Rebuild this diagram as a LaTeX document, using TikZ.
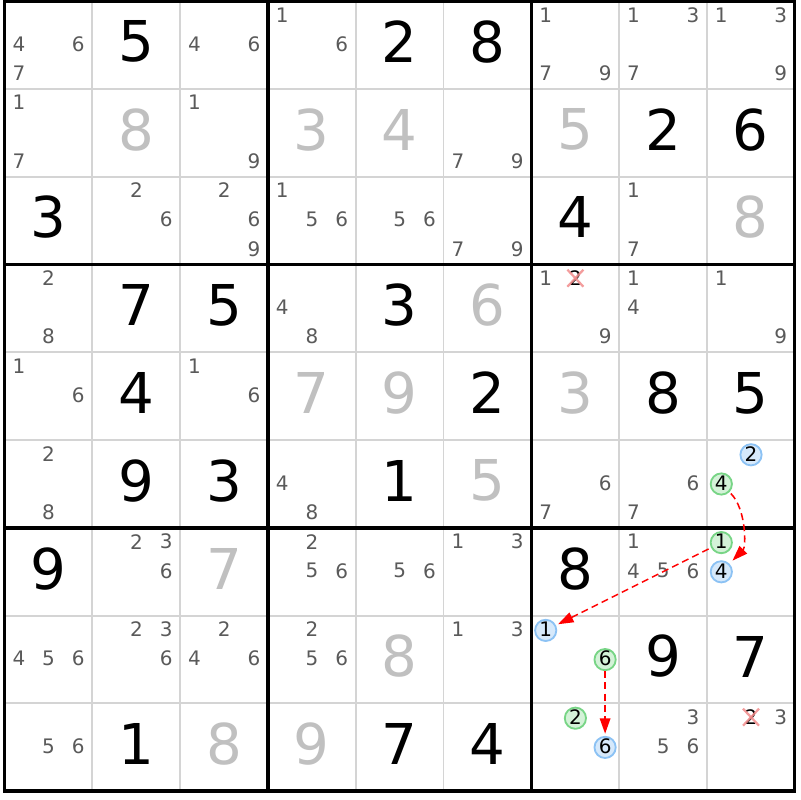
\documentclass[tikz,border=0pt]{standalone}
\usepackage{fontspec}
\setmainfont{DejaVu Sans}
\usetikzlibrary{arrows.meta}
\definecolor{candgray}{HTML}{5A5A5A}
\definecolor{solvedgray}{HTML}{C0C0C0}
\definecolor{gridlight}{HTML}{D4D4D4}
\definecolor{bluefill}{HTML}{D6E9FB}
\definecolor{bluedraw}{HTML}{8CC2F4}
\definecolor{greenfill}{HTML}{D4F2D8}
\definecolor{greendraw}{HTML}{78D586}
\definecolor{crossred}{HTML}{F28C8C}
\newcommand\markcand[5]{%
  \pgfmathsetmacro\cpx{4.5+87.8*(#4-1)+14.4+29.7*mod(#5-1,3)}%
  \pgfmathsetmacro\cpy{799-87.8*(#3-1)-13.8-29.2*floor((#5-1)/3)}%
  \node[#1] (#2) at (\cpx,{\cpy-1}) {};%
  \node[markdigit] (#2t) at (\cpx,\cpy) {#5};%
}
\newcommand\crosscand[4]{%
  \pgfmathsetmacro\cpx{4.5+87.8*(#3-1)+14.4+29.7*mod(#4-1,3)}%
  \pgfmathsetmacro\cpy{799-87.8*(#2-1)-13.8-29.2*floor((#4-1)/3)}%
  \node[markdigit] (#1) at (\cpx,\cpy) {#4};%
  \draw[crossx] ([shift={(-8,8.5)}]#1.center) -- ([shift={(8,-8.5)}]#1.center);%
  \draw[crossx] ([shift={(-8,-8.5)}]#1.center) -- ([shift={(8,8.5)}]#1.center);%
}
\begin{document}
\begin{tikzpicture}[x=0.025cm,y=0.025cm,
  bigdigit/.style={font=\fontsize{40}{40}\selectfont, inner sep=0pt},
  given/.style={bigdigit, text=black},
  solved/.style={bigdigit, text=solvedgray},
  cand/.style={font=\fontsize{14.2}{14.2}\selectfont, inner sep=0pt, text=candgray},
  markdigit/.style={cand, text=black},
  bluering/.style={circle, draw=bluedraw, fill=bluefill, line width=1.3pt, minimum size=15.1pt, inner sep=0pt},
  greenring/.style={bluering, draw=greendraw, fill=greenfill},
  crossx/.style={crossred, line width=1.6pt, opacity=0.85},
  link/.style={red, line width=1.1pt, dash pattern=on 5pt off 3pt, -{Triangle[length=11pt,width=7.5pt]}},
  gridthin/.style={gridlight, line width=1.3pt},
  gridthick/.style={black, line width=2.5pt, line cap=rect}]
\useasboundingbox (0,0) rectangle (800,800);
\fill[white] (0,0) rectangle (800,800);
% grid
\foreach \k in {1,2,4,5,7,8} {
  \draw[gridthin] ({4.5+87.8*\k},799) -- ({4.5+87.8*\k},8.8);
  \draw[gridthin] (4.5,{799-87.8*\k}) -- (794.7,{799-87.8*\k});
}
\foreach \k in {0,3,6,9} {
  \draw[gridthick] ({4.5+87.8*\k},799) -- ({4.5+87.8*\k},8.8);
  \draw[gridthick] (4.5,{799-87.8*\k}) -- (794.7,{799-87.8*\k});
}
% given digits
\foreach \r/\c/\d in {1/2/5,1/5/2,1/6/8,2/8/2,2/9/6,3/1/3,3/7/4,4/2/7,4/3/5,4/5/3,5/2/4,5/6/2,5/8/8,5/9/5,6/2/9,6/3/3,6/5/1,7/1/9,7/7/8,8/8/9,8/9/7,9/2/1,9/5/7,9/6/4}
  \node[given] (d\r\c) at ({4.5+87.8*(\c-0.5)},{799-87.8*(\r-0.5)+3}) {\d};
% solved digits
\foreach \r/\c/\d in {2/2/8,2/4/3,2/5/4,2/7/5,3/9/8,4/6/6,5/4/7,5/5/9,5/7/3,6/6/5,7/3/7,8/5/8,9/3/8,9/4/9}
  \node[solved] (d\r\c) at ({4.5+87.8*(\c-0.5)},{799-87.8*(\r-0.5)+3}) {\d};
% candidates
\foreach \r/\c/\ks in {1/1/{4,6,7},1/3/{4,6},1/4/{1,6},1/7/{1,7,9},1/8/{1,3,7},1/9/{1,3,9},
  2/1/{1,7},2/3/{1,9},2/6/{7,9},
  3/2/{2,6},3/3/{2,6,9},3/4/{1,5,6},3/5/{5,6},3/6/{7,9},3/8/{1,7},
  4/1/{2,8},4/4/{4,8},4/7/{1,9},4/8/{1,4},4/9/{1,9},
  5/1/{1,6},5/3/{1,6},
  6/1/{2,8},6/4/{4,8},6/7/{6,7},6/8/{6,7},
  7/2/{2,3,6},7/4/{2,5,6},7/5/{5,6},7/6/{1,3},7/8/{1,4,5,6},
  8/1/{4,5,6},8/2/{2,3,6},8/3/{2,4,6},8/4/{2,5,6},8/6/{1,3},
  9/1/{5,6},9/8/{3,5,6},9/9/{3}}
  \foreach \k in \ks {
    \pgfmathsetmacro\cpx{4.5+87.8*(\c-1)+14.4+29.7*mod(\k-1,3)}
    \pgfmathsetmacro\cpy{799-87.8*(\r-1)-13.8-29.2*floor((\k-1)/3)}
    \node[cand] (k\r\c\k) at (\cpx,\cpy) {\k};
  };
% eliminated candidates
\crosscand{x472}{4}{7}{2}
\crosscand{x992}{9}{9}{2}
% marked candidates
\markcand{bluering}{b692}{6}{9}{2}
\markcand{greenring}{g694}{6}{9}{4}
\markcand{greenring}{g791}{7}{9}{1}
\markcand{bluering}{b794}{7}{9}{4}
\markcand{bluering}{b871}{8}{7}{1}
\markcand{greenring}{g876}{8}{7}{6}
\markcand{greenring}{g972}{9}{7}{2}
\markcand{bluering}{b976}{9}{7}{6}
% links
\draw[link, shorten <=1.4pt, shorten >=3pt] (g694) to[out=-45,in=45,looseness=0.85] (b794);
\draw[link, shorten <=1.9pt, shorten >=1.6pt] (g791) -- (b871);
\draw[link, shorten >=1.5pt] (g876) -- (b976);
\end{tikzpicture}
\end{document}
